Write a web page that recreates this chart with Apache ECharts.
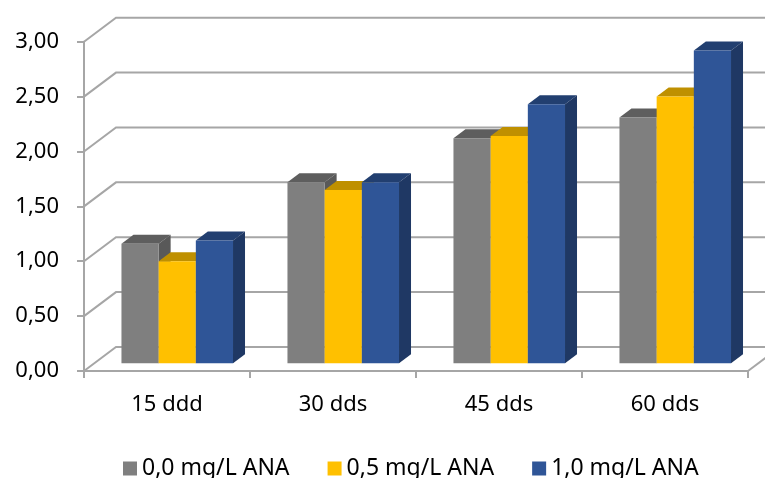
<!DOCTYPE html>
<html>
<head>
<meta charset="utf-8">
<script src="https://cdn.jsdelivr.net/npm/echarts@6/dist/echarts.min.js"></script>
<style>
  html, body { margin: 0; padding: 0; background: #ffffff; }
  #chart { width: 765px; height: 478px; }
</style>
</head>
<body>
<div id="chart"></div>
<script>
// Growth data by sampling time and ANA concentration
const categories = ['15 ddd', '30 dds', '45 dds', '60 dds'];
const seriesNames = ['0,0 mg/L ANA', '0,5 mg/L ANA', '1,0 mg/L ANA'];
const ana00 = [1.09, 1.65, 2.05, 2.24];
const ana05 = [0.93, 1.58, 2.07, 2.43];
const ana10 = [1.12, 1.65, 2.36, 2.85];
const yTicks = [0, 0.5, 1, 1.5, 2, 2.5, 3];

// Pseudo-3D projection: depth vector of the floor / side wall
const DX = 32, DY = -24;
const BAR_FRONT = 0.32;   // bar front face position along depth
const BAR_DEPTH = 0.375;  // bar thickness along depth
const BAR_FRAC = 0.224;   // bar width as share of a category band
const GRID_COLOR = '#a6a6a6';
const FONT = 'Noto Sans';

const palettes = [
  { front: '#7f7f7f', top: '#5e5e5e', side: '#595959' },
  { front: '#ffc000', top: '#bf9000', side: '#b38600' },
  { front: '#2f5597', top: '#223f70', side: '#1f3864' }
];

function barRenderer(idx) {
  const pal = palettes[idx];
  return function (params, api) {
    const cat = api.value(0), val = api.value(1);
    const band = api.size([1, 0])[0];
    const bw = band * BAR_FRAC;
    const base = api.coord([cat, 0]);
    const top = api.coord([cat, val]);
    const ox = DX * BAR_FRONT, oy = DY * BAR_FRONT;
    const ddx = DX * BAR_DEPTH, ddy = DY * BAR_DEPTH;
    const x0 = base[0] - 1.5 * bw + idx * bw + ox;
    const x1 = x0 + bw;
    const yb = base[1] + oy;
    const yt = top[1] + oy;
    return {
      type: 'group',
      children: [
        { type: 'polygon', shape: { points: [[x0, yt], [x1, yt], [x1 + ddx, yt + ddy], [x0 + ddx, yt + ddy]] },
          style: { fill: pal.top } },
        { type: 'polygon', shape: { points: [[x1, yt], [x1 + ddx, yt + ddy], [x1 + ddx, yb + ddy], [x1, yb]] },
          style: { fill: pal.side } },
        { type: 'rect', shape: { x: x0, y: yt, width: bw, height: yb - yt },
          style: { fill: pal.front } }
      ]
    };
  };
}

// Side wall and back wall gridlines, plus the floor's right edge
function wallRenderer(params, api) {
  const cs = params.coordSys;
  const v = api.value(1);
  const y = api.coord([0, v])[1];
  const L = cs.x, R = cs.x + cs.width;
  const children = [
    { type: 'polyline', shape: { points: [[L, y], [L + DX, y + DY], [R + DX, y + DY]] },
      style: { stroke: GRID_COLOR, lineWidth: 2, fill: null } }
  ];
  if (v === 0) {
    children.push({ type: 'line', shape: { x1: R, y1: y, x2: R + DX, y2: y + DY },
      style: { stroke: GRID_COLOR, lineWidth: 2 } });
  }
  return { type: 'group', children: children };
}

const valueSets = [ana00, ana05, ana10];

const series = [{
  type: 'custom',
  name: 'walls',
  silent: true,
  renderItem: wallRenderer,
  data: yTicks.map(v => [0, v]),
  encode: { x: 0, y: 1 },
  z: 1
}].concat(valueSets.map((vals, i) => ({
  type: 'custom',
  name: seriesNames[i],
  renderItem: barRenderer(i),
  itemStyle: { color: palettes[i].front },
  data: vals.map((v, k) => [k, v]),
  encode: { x: 0, y: 1 },
  z: 2
})));

const chart = echarts.init(document.getElementById('chart'), null, { renderer: 'canvas' });
chart.setOption({
  animation: false,
  backgroundColor: '#ffffff',
  textStyle: { fontFamily: FONT },
  grid: { left: 84, right: 17, top: 41.7, bottom: 107, containLabel: false },
  legend: {
    data: seriesNames,
    left: 118,
    top: 452,
    icon: 'rect',
    itemWidth: 14,
    itemHeight: 14,
    itemGap: 38,
    textStyle: { fontFamily: FONT, fontSize: 23, color: '#000000' }
  },
  xAxis: {
    type: 'category',
    data: categories,
    boundaryGap: true,
    axisLine: { show: true, lineStyle: { color: GRID_COLOR, width: 2 } },
    axisTick: { show: true, length: 7, lineStyle: { color: GRID_COLOR, width: 2 } },
    axisLabel: { margin: 23, fontFamily: FONT, fontSize: 22, color: '#000000' },
    splitLine: { show: false }
  },
  yAxis: {
    type: 'value',
    min: 0,
    max: 3,
    interval: 0.5,
    axisLine: { show: true, lineStyle: { color: GRID_COLOR, width: 2 } },
    axisTick: { show: true, length: 7, lineStyle: { color: GRID_COLOR, width: 2 } },
    axisLabel: {
      margin: 25, fontFamily: FONT, fontSize: 22, color: '#000000',
      formatter: v => v.toFixed(2).replace('.', ',')
    },
    splitLine: { show: false }
  },
  series: series
});
</script>
</body>
</html>
